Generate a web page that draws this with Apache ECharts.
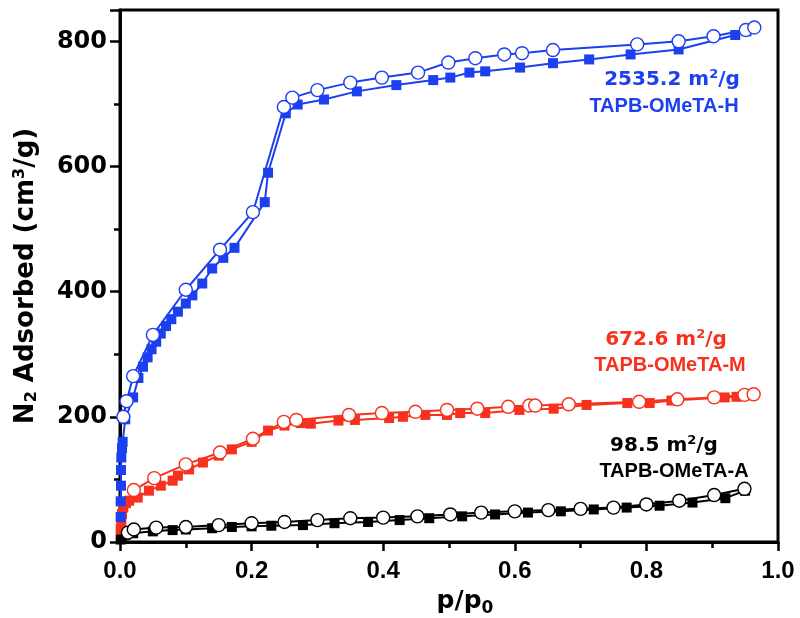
<!DOCTYPE html>
<html>
<head>
<meta charset="utf-8">
<script src="https://cdn.jsdelivr.net/npm/echarts@6/dist/echarts.min.js"></script>
<style>html,body{margin:0;padding:0;background:#fff}#c{width:800px;height:618px}</style>
</head>
<body>
<div id="c"></div>
<script>
// ---- data ----
const blueAdsX = [0.001,0.001,0.0015,0.0015,0.002,0.003,0.004,0.008,0.02,0.028,0.035,0.042,0.048,0.055,0.062,0.07,0.078,0.088,0.1,0.11,0.125,0.14,0.157,0.174,0.22,0.225,0.252,0.27,0.31,0.36,0.42,0.476,0.502,0.531,0.555,0.608,0.658,0.713,0.776,0.849,0.935,0.952];
const blueAdsY = [40,65,90,115,135,150,160,196,231,262,280,295,308,320,333,345,356,368,381,394,413,437,454,470,543,590,685,699,707,720,730,738,742,750,752,758,765,771,779,787,810,816];
const blueDesX = [0.005,0.01,0.02,0.05,0.1,0.152,0.202,0.249,0.262,0.30,0.35,0.398,0.453,0.499,0.54,0.584,0.611,0.658,0.786,0.849,0.902,0.951,0.964];
const blueDesY = [200,225,265,331,403,467,527,695,710,722,734,742,750,766,773,779,781,786,795,800,808,818,822];

const redAdsX = [0.001,0.002,0.003,0.005,0.009,0.014,0.027,0.044,0.062,0.08,0.088,0.105,0.126,0.15,0.17,0.2,0.225,0.25,0.275,0.29,0.332,0.357,0.409,0.43,0.464,0.497,0.517,0.555,0.607,0.659,0.709,0.771,0.805,0.838,0.919,0.937,0.949];
const redAdsY = [20,32,45,55,62,66,71,82,90,98,106,116,127,138,148,160,178,186,190,189,194,195,198,200,203,203,206,206,211,213,219,222,222,226,231,232,234];
const redDesX = [0.021,0.052,0.10,0.152,0.202,0.249,0.268,0.348,0.398,0.449,0.497,0.543,0.59,0.622,0.631,0.682,0.789,0.847,0.903,0.949,0.963];
const redDesY = [83,102,124,143,165,192,195,203,206,208,211,213,216,218,218,220,224,228,231,235,236];

const blackAdsX = [0.001,0.003,0.008,0.02,0.05,0.08,0.1,0.14,0.17,0.2,0.23,0.278,0.326,0.377,0.425,0.47,0.52,0.57,0.62,0.67,0.72,0.77,0.82,0.87,0.92,0.95];
const blackAdsY = [4,8,11,14,17,19,20,22,24,25,26,27,30,32,35,38,41,44,47,49,52,55,58,63,70,82];
const blackDesX = [0.012,0.021,0.055,0.10,0.15,0.20,0.25,0.30,0.35,0.40,0.452,0.502,0.549,0.60,0.651,0.70,0.75,0.80,0.85,0.903,0.949];
const blackDesY = [15,20,23,24,27,30,32,35,38,39,41,44,47,49,51,53,55,60,66,75,85];

const xTicks = [0, 0.2, 0.4, 0.6, 0.8, 1.0];
const yTicks = [0, 200, 400, 600, 800];

const labelsArea = ['2535.2', '672.6', '98.5'];
const labelsName = ['TAPB-OMeTA-H', 'TAPB-OMeTA-M', 'TAPB-OMeTA-A'];

const BLUE = '#1c3ff0', RED = '#f7311d', BLACK = '#000000';
const LIB = 'Liberation Sans, Arial, sans-serif';
const DJV = 'DejaVu Sans, sans-serif';

function pairs(xs, ys){ return xs.map((x,i)=>[x, ys[i]]); }

function ads(name, xs, ys, color){
  return {type:'line', name, data:pairs(xs,ys), symbol:'rect', symbolSize:10,
    lineStyle:{color, width:2}, itemStyle:{color, borderWidth:0}, animation:false, z:2};
}
function des(name, xs, ys, color){
  return {type:'line', name, data:pairs(xs,ys), symbol:'circle', symbolSize:13, showAllSymbol:true,
    lineStyle:{color, width:2}, itemStyle:{color:'#ffffff', borderColor:color, borderWidth:1.4}, animation:false, z:3};
}
function areaText(i, color, x, y){
  return {type:'text', x, y, z:10, style:{text:'{a|'+labelsArea[i]+' m}{p|2}{a|/g}', align:'center', verticalAlign:'middle',
    rich:{a:{fontFamily:DJV, fontWeight:'bold', fontSize:20, fill:color}, p:{fontFamily:DJV, fontWeight:'bold', fontSize:13, fill:color, padding:[0,0,10,0]}}}};
}
function nameText(i, color, x, y){
  return {type:'text', x, y, z:10, style:{text:labelsName[i], align:'center', verticalAlign:'middle', fontFamily:LIB, fontWeight:'bold', fontSize:20, fill:color}};
}

const chart = echarts.init(document.getElementById('c'), null, {renderer:'canvas'});
chart.setOption({
  backgroundColor:'#fff',
  animation:false,
  grid:{left:120, right:22, top:10, bottom:76, outerBoundsMode:'none', containLabel:false,
    show:true, borderColor:'#000', borderWidth:3, backgroundColor:'transparent'},
  xAxis:{type:'value', min:0, max:1.0, interval:0.2,
    name:'{a|p/p}{s|0}', nameLocation:'middle', nameGap:44,
    nameTextStyle:{padding:[0,0,0,32], rich:{a:{fontFamily:DJV, fontWeight:'bold', fontSize:25, color:'#000'}, s:{fontFamily:DJV, fontWeight:'bold', fontSize:17, color:'#000', padding:[14,0,0,0]}}},
    axisLine:{show:true, onZero:false, lineStyle:{color:'#000', width:3}},
    axisTick:{show:true, inside:false, length:9, lineStyle:{color:'#000', width:2.5}},
    minorTick:{show:true, splitNumber:2, length:6, lineStyle:{color:'#000', width:2.5}},
    splitLine:{show:false},
    axisLabel:{margin:17, fontFamily:LIB, fontWeight:'bold', fontSize:24, color:'#000',
      formatter:v=>{const t=xTicks.find(k=>Math.abs(k-v)<1e-9); return t===undefined?'':t.toFixed(1);}}
  },
  yAxis:{type:'value', min:0, max:850, interval:200,
    name:'{a|N}{s|2}{a| Adsorbed (cm}{p|3}{a|/g)}', nameLocation:'middle', nameGap:80, nameRotate:90,
    nameTextStyle:{rich:{a:{fontFamily:DJV, fontWeight:'bold', fontSize:26, color:'#000'},
      s:{fontFamily:DJV, fontWeight:'bold', fontSize:16, color:'#000', padding:[12,0,0,0]},
      p:{fontFamily:DJV, fontWeight:'bold', fontSize:16, color:'#000', padding:[0,0,12,0]}}},
    axisLine:{show:true, onZero:false, lineStyle:{color:'#000', width:3}},
    axisTick:{show:true, inside:false, length:10, lineStyle:{color:'#000', width:2.5}},
    minorTick:{show:true, splitNumber:2, length:6, lineStyle:{color:'#000', width:2.5}},
    splitLine:{show:false},
    axisLabel:{margin:13, fontFamily:DJV, fontWeight:'bold', fontSize:24, color:'#000',
      formatter:v=>yTicks.includes(v)?String(v):''}
  },
  series:[
    ads('black-ads', blackAdsX, blackAdsY, BLACK),
    des('black-des', blackDesX, blackDesY, BLACK),
    ads('red-ads', redAdsX, redAdsY, RED),
    des('red-des', redDesX, redDesY, RED),
    ads('blue-ads', blueAdsX, blueAdsY, BLUE),
    des('blue-des', blueDesX, blueDesY, BLUE)
  ],
  graphic:[
    areaText(0, BLUE, 672, 80),
    nameText(0, BLUE, 664, 106),
    areaText(1, RED, 666, 340),
    nameText(1, RED, 670, 365),
    areaText(2, BLACK, 664, 446),
    nameText(2, BLACK, 674, 471)
  ]
});
</script>
</body>
</html>
